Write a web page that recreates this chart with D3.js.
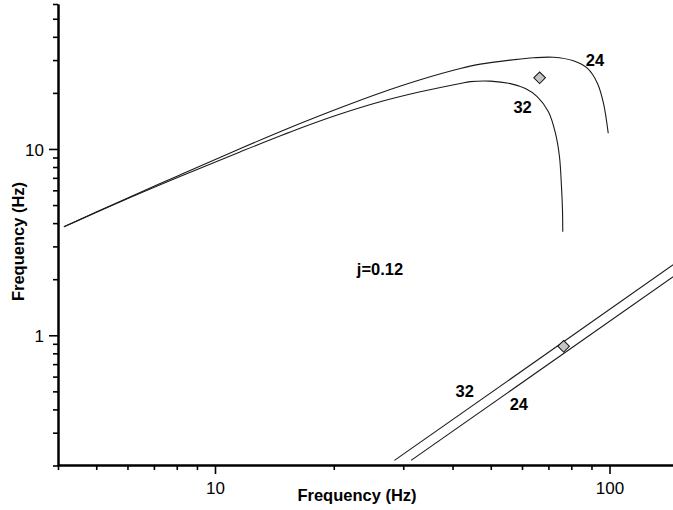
<!DOCTYPE html>
<html>
<head>
<meta charset="utf-8">
<script src="https://cdn.jsdelivr.net/npm/d3@7"></script>
<style>
  html, body { margin: 0; padding: 0; background: #fff; }
  svg { display: block; font-family: Arial, "Liberation Sans", sans-serif; }
</style>
</head>
<body>
<svg id="chart" width="673" height="510"></svg>
<script>
// Upper branch curves: [frequency, frequency] pairs, one per ring size
const upper24 = [[4.14,3.82],[5.74,5.23],[8.15,7.26],[11.57,10.03],[16.43,13.69],[20.77,16.64],
  [26.23,19.98],[33.14,23.52],[41.86,27.02],[47.06,28.53],[57.06,30.12],[64.13,30.87],
  [72.09,31.06],[81.01,29.72],[87.96,27.05],[93.22,22.48],[96.55,17.57],[99.25,12.14]];
const upper32 = [[4.14,3.82],[5.74,5.20],[8.15,7.12],[11.57,9.64],[16.43,12.91],[20.77,15.40],
  [26.23,17.92],[33.14,20.27],[41.86,22.48],[44.38,22.99],[49.89,23.14],[56.07,22.43],
  [61.20,21.09],[65.65,19.06],[70.01,15.84],[72.95,12.14],[74.67,9.09],[75.55,6.28],
  [75.99,4.71],[76.12,3.59]];
// Lower branch (straight lines in log-log)
const lower32 = [[28.5,0.213],[145,2.39]];
const lower24 = [[31.4,0.213],[145,2.06]];
// Measured points
const markers = [[66.5,24.1],[76.5,0.873]];
// Curve labels
const curveLabels = [
  {text:"24", x:91.9, y:27.9},
  {text:"32", x:60.2, y:15.6},
  {text:"32", x:42.95, y:0.465},
  {text:"24", x:58.9, y:0.397}
];
const note = {text:"j=0.12", x:26.2, y:2.107};
const xMajor = [10, 100];
const xMinor = [4,5,6,7,8,9,20,30,40,50,60,70,80,90];
const yMajor = [1, 10];
const yMinor = [0.2,0.3,0.4,0.5,0.6,0.7,0.8,0.9,2,3,4,5,6,7,8,9,20,30,40,50,60];

const svg = d3.select("#chart");
const x = d3.scaleLog().domain([4, 150]).range([58, 679]);
const y = d3.scaleLog().domain([0.2, 60]).range([465.5, 4]);

const fmt = d => String(d);

// clip for data marks
svg.append("clipPath").attr("id", "plotclip")
  .append("rect").attr("x", 58).attr("y", 0).attr("width", 615).attr("height", 466);

const line = d3.line().x(d => x(d[0])).y(d => y(d[1])).curve(d3.curveCatmullRom.alpha(0.5));
const straight = d3.line().x(d => x(d[0])).y(d => y(d[1]));

const g = svg.append("g").attr("clip-path", "url(#plotclip)");
[upper24, upper32].forEach(s => g.append("path").attr("d", line(s))
  .attr("fill", "none").attr("stroke", "#1a1a1a").attr("stroke-width", 1.1));
[lower24, lower32].forEach(s => g.append("path").attr("d", straight(s))
  .attr("fill", "none").attr("stroke", "#1a1a1a").attr("stroke-width", 1.1));

g.selectAll("path.mk").data(markers).enter().append("path").attr("class", "mk")
  .attr("d", d3.symbol().type(d3.symbolSquare).size(68))
  .attr("transform", d => `translate(${x(d[0])},${y(d[1])}) rotate(45)`)
  .attr("fill", "#c4c4c4").attr("stroke", "#111").attr("stroke-width", 1);

// axes: minor ticks first, then major ticks with labels
function styleAxis(sel) {
  sel.select(".domain").attr("stroke", "#000").attr("stroke-width", 2);
  sel.selectAll(".tick line").attr("stroke", "#000").attr("stroke-width", 1.6);
}
const xMinorAx = svg.append("g").attr("transform", "translate(0,465)")
  .call(d3.axisBottom(x).tickValues(xMinor).tickSize(5).tickSizeOuter(0).tickFormat(""));
styleAxis(xMinorAx);
const xMajorAx = svg.append("g").attr("transform", "translate(0,465)")
  .call(d3.axisBottom(x).tickValues(xMajor).tickSize(9).tickSizeOuter(0).tickFormat(fmt));
styleAxis(xMajorAx);
xMajorAx.selectAll(".tick text").attr("y", 29).attr("dy", 0)
  .attr("font-size", 17).attr("fill", "#000").attr("font-family", "Arial, 'Liberation Sans', sans-serif");

const yMinorAx = svg.append("g").attr("transform", "translate(58,0)")
  .call(d3.axisLeft(y).tickValues(yMinor).tickSize(5).tickSizeOuter(0).tickFormat(""));
styleAxis(yMinorAx);
const yMajorAx = svg.append("g").attr("transform", "translate(58,0)")
  .call(d3.axisLeft(y).tickValues(yMajor).tickSize(9).tickSizeOuter(0).tickFormat(fmt));
styleAxis(yMajorAx);
yMajorAx.selectAll(".tick text").attr("x", -14).attr("dy", "0.36em")
  .attr("font-size", 17).attr("fill", "#000").attr("font-family", "Arial, 'Liberation Sans', sans-serif");

// axis titles
svg.append("text").attr("x", 357).attr("y", 501).attr("text-anchor", "middle")
  .attr("font-size", 16.5).attr("font-weight", "bold").text("Frequency (Hz)");
svg.append("text").attr("transform", "translate(24,241.5) rotate(-90)").attr("text-anchor", "middle")
  .attr("font-size", 16.5).attr("font-weight", "bold").text("Frequency (Hz)");

// curve labels and annotation
svg.selectAll("text.cl").data(curveLabels).enter().append("text").attr("class", "cl")
  .attr("x", d => x(d.x)).attr("y", d => y(d.y)).attr("text-anchor", "middle")
  .attr("font-size", 16.5).attr("font-weight", "bold").text(d => d.text);
svg.append("text").attr("x", x(note.x)).attr("y", y(note.y)).attr("text-anchor", "middle")
  .attr("font-size", 16.5).attr("font-weight", "bold").text(note.text);
</script>
</body>
</html>
